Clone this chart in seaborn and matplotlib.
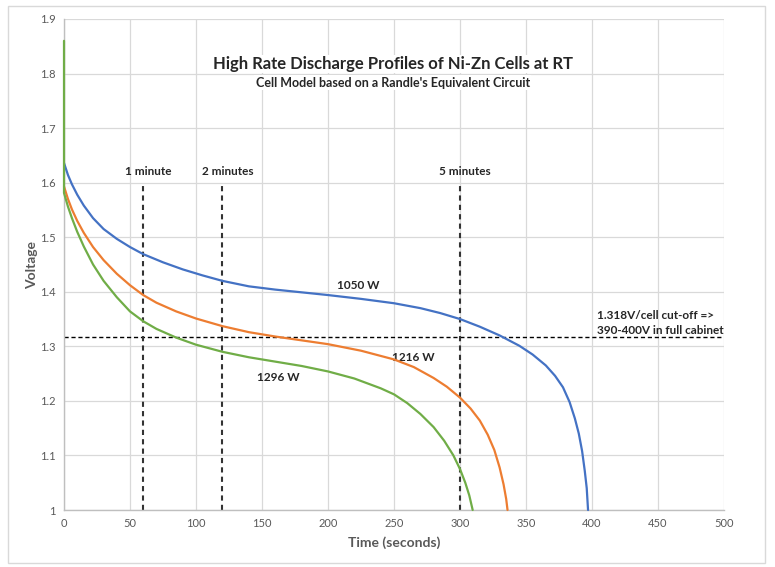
import matplotlib
matplotlib.use("Agg")
import matplotlib.pyplot as plt
import seaborn as sns
import pandas as pd

# Discharge curves (time in s, voltage in V)
t_1050 = [0, 3, 6, 10, 15, 22, 30, 40, 50, 60, 75, 90, 105, 120, 140, 160, 180, 200, 225, 250, 270, 285,
          300, 315, 330, 345, 355, 365, 372, 378, 383, 387, 390, 392.5, 394.5, 396, 397]
v_1050 = [1.636, 1.614, 1.597, 1.578, 1.558, 1.535, 1.515, 1.497, 1.482, 1.469, 1.454, 1.441, 1.430, 1.420,
          1.410, 1.404, 1.399, 1.394, 1.387, 1.379, 1.370, 1.361, 1.350, 1.336, 1.320, 1.301, 1.285, 1.265,
          1.246, 1.225, 1.198, 1.168, 1.140, 1.108, 1.072, 1.040, 1.0]

t_1216 = [0, 3, 6, 10, 15, 22, 30, 40, 50, 60, 70, 85, 100, 120, 140, 160, 180, 200, 225, 250, 265, 280,
          290, 300, 308, 315, 321, 326, 330, 333, 335, 336]
v_1216 = [1.593, 1.570, 1.551, 1.530, 1.508, 1.482, 1.458, 1.433, 1.412, 1.394, 1.380, 1.364, 1.351, 1.337,
          1.326, 1.318, 1.311, 1.304, 1.292, 1.276, 1.262, 1.242, 1.226, 1.206, 1.186, 1.164, 1.138, 1.110,
          1.078, 1.047, 1.020, 1.0]

t_1296 = [0, 0, 3, 6, 10, 15, 22, 30, 40, 50, 60, 70, 85, 100, 120, 140, 160, 180, 200, 220, 240, 250,
          260, 270, 280, 288, 295, 300, 304, 307, 309.6]
v_1296 = [1.86, 1.581, 1.556, 1.535, 1.510, 1.483, 1.450, 1.420, 1.390, 1.364, 1.346, 1.332, 1.316, 1.303,
          1.290, 1.280, 1.272, 1.264, 1.254, 1.241, 1.223, 1.212, 1.196, 1.176, 1.152, 1.127, 1.100, 1.075,
          1.050, 1.027, 1.0]

series = ["1050 W", "1216 W", "1296 W"]
colors = ["#4472C4", "#ED7D31", "#70AD47"]

markers_t = [60, 120, 300]
markers_lbl = ["1 minute", "2 minutes", "5 minutes"]
cutoff = 1.318

df = pd.concat([
    pd.DataFrame({"t": t_1050, "v": v_1050, "s": "1050 W"}),
    pd.DataFrame({"t": t_1216, "v": v_1216, "s": "1216 W"}),
    pd.DataFrame({"t": t_1296, "v": v_1296, "s": "1296 W"}),
])

sns.set_theme(style="whitegrid")
plt.rcParams["font.family"] = ["Lato", "DejaVu Sans"]

fig = plt.figure(figsize=(7.75, 5.67), dpi=100)
ax = fig.add_axes([0.0826, 0.1005, 0.8516, 0.866])

sns.lineplot(data=df, x="t", y="v", hue="s", palette=dict(zip(series, colors)),
             sort=False, estimator=None, linewidth=1.6, legend=False, ax=ax)
for ln in ax.lines:
    ln.set_clip_on(False)
    ln.set_zorder(5)
    ln.set_solid_joinstyle("round")

ax.set_xlim(0, 500)
ax.set_ylim(1.0, 1.9)
ax.set_xticks(range(0, 501, 50))
ax.set_yticks([1.0, 1.1, 1.2, 1.3, 1.4, 1.5, 1.6, 1.7, 1.8, 1.9])
ax.set_yticklabels(["1", "1.1", "1.2", "1.3", "1.4", "1.5", "1.6", "1.7", "1.8", "1.9"])
ax.tick_params(colors="#595959", labelsize=8, length=0, pad=6)
ax.grid(True, color="#d9d9d9", linewidth=0.9)
ax.set_facecolor("white")
for side in ["top", "right"]:
    ax.spines[side].set_visible(False)
for side in ["left", "bottom"]:
    ax.spines[side].set_color("#bfbfbf")
    ax.spines[side].set_linewidth(1)

ax.set_xlabel("Time (seconds)", fontsize=10, fontweight="bold", color="#595959", labelpad=5)
ax.set_ylabel("Voltage", fontsize=10, fontweight="bold", color="#595959", labelpad=1)

# cut-off and time markers
ax.axhline(cutoff, color="black", linestyle="--", linewidth=1, dashes=(3, 2))
for t, lbl in zip(markers_t, markers_lbl):
    ax.plot([t, t], [1.0, 1.6], color="#333333", linestyle="--", linewidth=1.5, dashes=(2.5, 2))
    ax.text(t + 4, 1.62, lbl, ha="center", va="center", fontsize=8.5, fontweight="bold")

ax.text(223, 1.412, "1050 W", ha="center", va="center", fontsize=8.5, fontweight="bold")
ax.text(265, 1.28, "1216 W", ha="center", va="center", fontsize=8.5, fontweight="bold")
ax.text(162, 1.242, "1296 W", ha="center", va="center", fontsize=8.5, fontweight="bold")
ax.text(404, 1.343, "1.318V/cell cut-off =>\n390-400V in full cabinet", ha="left", va="center",
        fontsize=8.5, fontweight="bold", linespacing=1.4)

ax.text(249, 1.8175, "High Rate Discharge Profiles of Ni-Zn Cells at RT", ha="center", va="center",
        fontsize=12, fontweight="bold", bbox=dict(facecolor="white", edgecolor="none", pad=1))
ax.text(249, 1.783, "Cell Model based on a Randle's Equivalent Circuit", ha="center", va="center",
        fontsize=9, fontweight="bold", bbox=dict(facecolor="white", edgecolor="none", pad=1))

fig.patches.append(plt.Rectangle((8 / 775, 4 / 567), 757 / 775, 557 / 567, transform=fig.transFigure,
                                 fill=False, edgecolor="#d9d9d9", linewidth=1))

fig.savefig("out.png", dpi=100)
